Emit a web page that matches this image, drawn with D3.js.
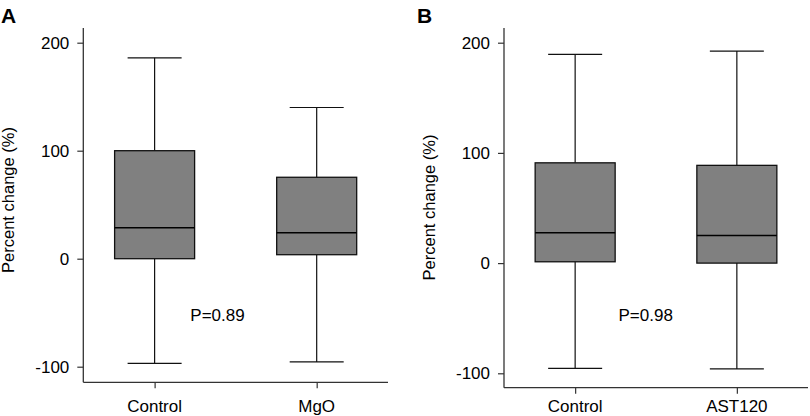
<!DOCTYPE html>
<html>
<head>
<meta charset="utf-8">
<script src="https://cdn.jsdelivr.net/npm/d3@7"></script>
<style>
  body { margin: 0; background: #fff; }
  svg { display: block; font-family: "Liberation Sans", Arial, Helvetica, sans-serif; }
</style>
</head>
<body>
<svg id="chart" width="810" height="416"></svg>
<script>
// ---- Data ----
const yTicks = [-100, 0, 100, 200];

const categoriesA = ["Control", "MgO"];
const minA    = [-97, -95.6];
const q1A     = [0, 3.7];
const medianA = [28.7, 24];
const q3A     = [100, 75.4];
const maxA    = [186, 140];
const pLabelA = "P=0.89";

const categoriesB = ["Control", "AST120"];
const minB    = [-95.6, -96];
const q1B     = [1.2, 0];
const medianB = [27.5, 25.1];
const q3B     = [91, 88.7];
const maxB    = [189.4, 192.4];
const pLabelB = "P=0.98";

const yLabel = "Percent change (%)";

// ---- Drawing ----
const svg = d3.select("#chart");

function panel(cfg) {
  const g = svg.append("g");
  const y = d3.scaleLinear().domain([-100, 200]).range([cfg.y0, cfg.y200]);
  const x = d3.scalePoint().domain(cfg.cats).range([cfg.axisX, cfg.axisRight]).padding(0.44);

  const boxW = 80, capW = 54;

  // axes lines
  g.append("line").attr("x1", cfg.axisX).attr("x2", cfg.axisX)
    .attr("y1", cfg.axisTop).attr("y2", cfg.axisBottom)
    .attr("stroke", "#333").attr("stroke-width", 1.3);
  g.append("line").attr("x1", cfg.axisX).attr("x2", cfg.axisRight)
    .attr("y1", cfg.axisBottom).attr("y2", cfg.axisBottom)
    .attr("stroke", "#333").attr("stroke-width", 1.3);

  // y axis ticks
  const ya = g.append("g").attr("transform", `translate(${cfg.axisX},0)`)
    .call(d3.axisLeft(y).tickValues(yTicks).tickFormat(d => String(d)).tickSize(6).tickPadding(8));
  ya.select(".domain").remove();
  ya.selectAll(".tick line").attr("stroke", "#333").attr("stroke-width", 1.2);
  ya.selectAll(".tick text").attr("font-size", 17).attr("fill", "#000")
    .attr("font-family", "'Liberation Sans', Arial, sans-serif");

  // x axis ticks
  const xa = g.append("g").attr("transform", `translate(0,${cfg.axisBottom})`)
    .call(d3.axisBottom(x).tickSize(6).tickPadding(0));
  xa.select(".domain").remove();
  xa.selectAll(".tick line").attr("stroke", "#333").attr("stroke-width", 1.2);
  xa.selectAll(".tick text").remove();
  g.selectAll(".catlabel").data(cfg.cats).enter().append("text")
    .attr("x", d => x(d)).attr("y", 412)
    .attr("text-anchor", "middle").attr("font-size", 17).attr("fill", "#000")
    .text(d => d);

  // boxes
  cfg.cats.forEach((c, i) => {
    const cx = x(c);
    // whisker vertical
    g.append("line").attr("x1", cx).attr("x2", cx)
      .attr("y1", y(cfg.max[i])).attr("y2", y(cfg.q3[i]))
      .attr("stroke", "#111").attr("stroke-width", 1.2);
    g.append("line").attr("x1", cx).attr("x2", cx)
      .attr("y1", y(cfg.q1[i])).attr("y2", y(cfg.min[i]))
      .attr("stroke", "#111").attr("stroke-width", 1.2);
    // caps
    [cfg.max[i], cfg.min[i]].forEach(v => {
      g.append("line").attr("x1", cx - capW / 2).attr("x2", cx + capW / 2)
        .attr("y1", y(v)).attr("y2", y(v))
        .attr("stroke", "#111").attr("stroke-width", 1.2);
    });
    // box
    g.append("rect").attr("x", cx - boxW / 2).attr("width", boxW)
      .attr("y", y(cfg.q3[i])).attr("height", y(cfg.q1[i]) - y(cfg.q3[i]))
      .attr("fill", "#808080").attr("stroke", "#111").attr("stroke-width", 1.3);
    // median
    g.append("line").attr("x1", cx - boxW / 2).attr("x2", cx + boxW / 2)
      .attr("y1", y(cfg.median[i])).attr("y2", y(cfg.median[i]))
      .attr("stroke", "#000").attr("stroke-width", 1.4);
  });

  // P label
  g.append("text").attr("x", cfg.pX).attr("y", 321)
    .attr("text-anchor", "middle").attr("font-size", 17).attr("fill", "#000")
    .text(cfg.pLabel);

  // y label
  g.append("text").attr("transform", `translate(${cfg.labelX},${cfg.labelY}) rotate(-90)`)
    .attr("text-anchor", "middle").attr("font-size", 16.5).attr("fill", "#000")
    .text(yLabel);

  // panel letter
  g.append("text").attr("x", cfg.letterX).attr("y", 23)
    .attr("font-size", 21).attr("font-weight", "bold").attr("fill", "#000")
    .text(cfg.letter);
}

panel({
  cats: categoriesA, min: minA, q1: q1A, median: medianA, q3: q3A, max: maxA,
  pLabel: pLabelA, letter: "A",
  axisX: 83.3, axisRight: 388, axisTop: 28, axisBottom: 382.3,
  y0: 366.7, y200: 42.7, pX: 217.5, labelX: 14, labelY: 200, letterX: 1
});

panel({
  cats: categoriesB, min: minB, q1: q1B, median: medianB, q3: q3B, max: maxB,
  pLabel: pLabelB, letter: "B",
  axisX: 504, axisRight: 808, axisTop: 28, axisBottom: 387.7,
  y0: 373.3, y200: 42.7, pX: 645.7, labelX: 435, labelY: 207.5, letterX: 417
});
</script>
</body>
</html>
